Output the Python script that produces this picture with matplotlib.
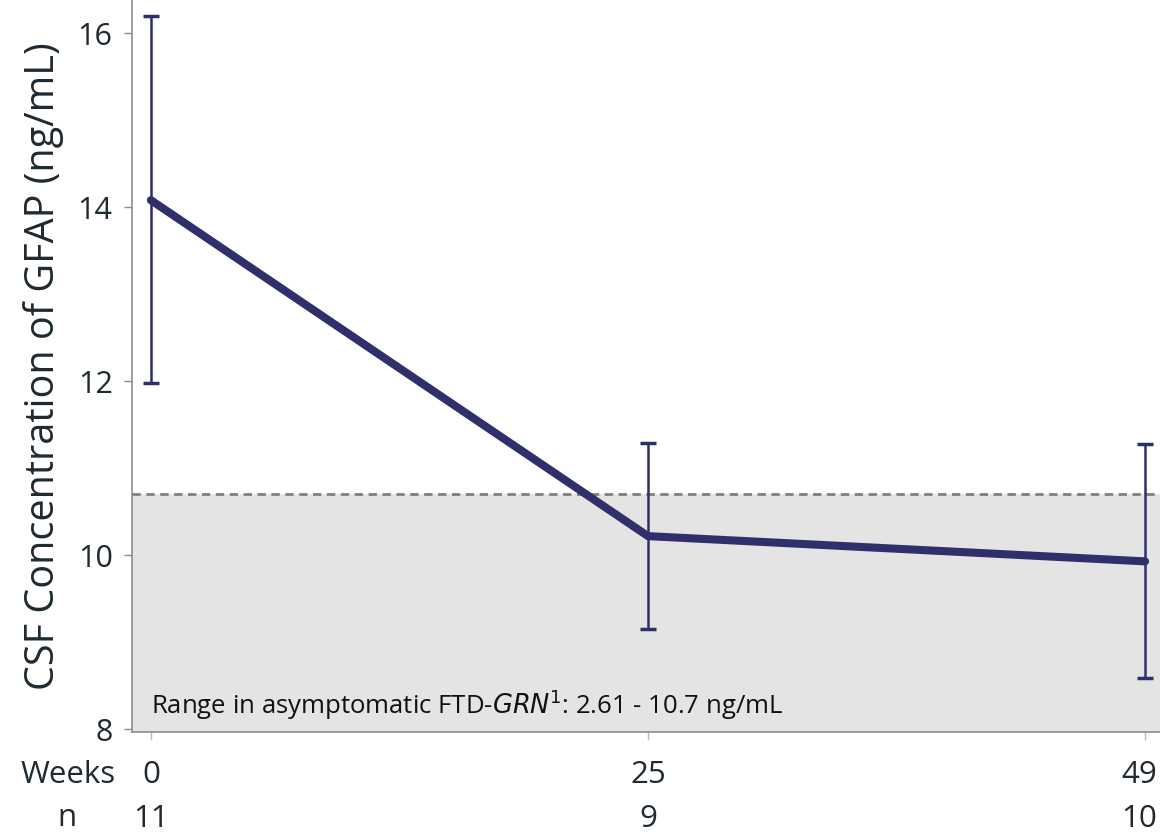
import matplotlib.pyplot as plt
import matplotlib.transforms as mtransforms

# Data
weeks = [0, 25, 49]
n_counts = ["11", "9", "10"]
gfap_mean = [14.08, 10.22, 9.93]
err_upper = [16.20, 11.29, 11.28]
err_lower = [11.98, 9.15, 8.59]
ref_low, ref_high = 2.61, 10.7

navy = "#2E2F6B"
grey_txt = "#1F2A30"
plt.rcParams['font.family'] = ['Open Sans', 'DejaVu Sans']

fig = plt.figure(figsize=(11.6, 8.33), dpi=100)
ax = fig.add_axes([0.1138, 0.1213, 0.8862, 0.8787])

# visits are evenly spaced on the chart (category axis)
pos = list(range(len(weeks)))

# reference range band
ax.axhspan(ref_low, ref_high, color="#E4E4E4", zorder=0, lw=0)
ax.axhline(ref_high, color="#7F7F7F", ls=(0, (3, 2)), lw=2, zorder=1)

yerr = [[m - lo for m, lo in zip(gfap_mean, err_lower)],
        [hi - m for m, hi in zip(gfap_mean, err_upper)]]
ax.errorbar(pos, gfap_mean, yerr=yerr, fmt="none", ecolor=navy,
            elinewidth=1.8, capsize=6, capthick=2.5, zorder=2)
ax.plot(pos, gfap_mean, color=navy, lw=5.8, solid_capstyle="round",
        solid_joinstyle="round", zorder=3)

ax.set_xlim(-0.038, 2.03)
ax.set_ylim(7.97, 16.38)
ax.set_yticks([8, 10, 12, 14, 16])
ax.set_xticks(pos)
ax.set_xticklabels(["" for _ in pos])
ax.tick_params(axis="y", labelsize=22, colors="#8C8C8C", labelcolor=grey_txt,
               length=6, width=1, pad=8)
ax.tick_params(axis="x", colors="#BFBFBF", length=6, width=1)
for s in ["top", "right"]:
    ax.spines[s].set_visible(False)
for s in ["left", "bottom"]:
    ax.spines[s].set_color("#8C8C8C")
    ax.spines[s].set_linewidth(1.2)

ax.set_ylabel("CSF Concentration of GFAP (ng/mL)", fontsize=28.5, color=grey_txt,
              labelpad=10)

# Weeks / n rows below the axis (last column pulled in so it stays on the page)
trans = mtransforms.blended_transform_factory(ax.transData, fig.transFigure)
for p, w, n in zip(pos, weeks, n_counts):
    last = p == pos[-1]
    xx = p + 0.025 if last else p
    ha = "right" if last else "center"
    ax.text(xx, 1 - 775 / 833, str(w), transform=trans, ha=ha,
            va="center", fontsize=22.5, color=grey_txt)
    ax.text(xx, 1 - 819 / 833, n, transform=trans, ha=ha, va="center",
            fontsize=22.5, color=grey_txt)
fig.text(116 / 1160, 1 - 775 / 833, "Weeks", ha="right", va="center",
         fontsize=22.5, color=grey_txt)
fig.text(76 / 1160, 1 - 818 / 833, "n", ha="right", va="center",
         fontsize=22.5, color=grey_txt)

ax.text(0.0, 8.28, "Range in asymptomatic FTD-$\\it{GRN}$$^{1}$: 2.61 - 10.7 ng/mL",
        fontsize=18.5, color="#111111", va="center", ha="left")

fig.savefig("out.png", dpi=100)
